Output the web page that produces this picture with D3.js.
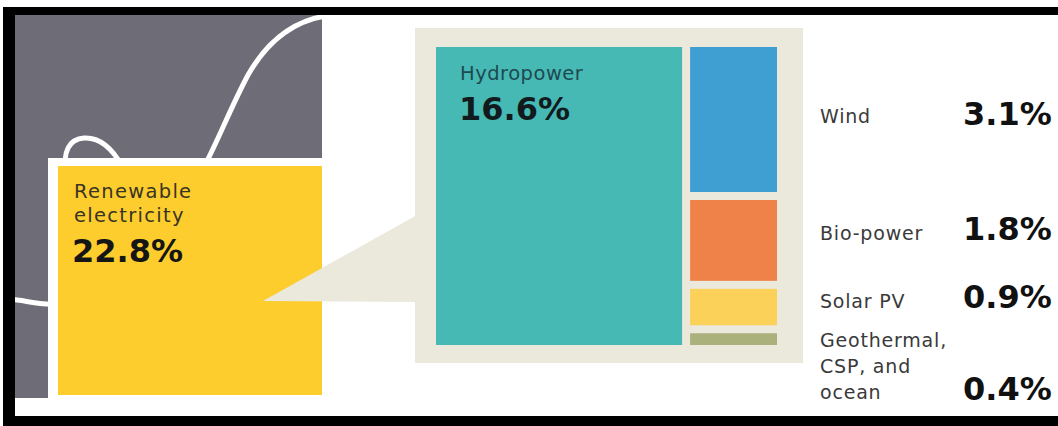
<!DOCTYPE html>
<html>
<head>
<meta charset="utf-8">
<script src="https://cdn.jsdelivr.net/npm/d3@7"></script>
<style>
  html, body { margin: 0; padding: 0; background: #ffffff; }
  svg { display: block; }
  text { font-family: "DejaVu Sans", sans-serif; }
</style>
</head>
<body>
<svg id="chart" width="1058" height="426"></svg>
<script>
// Share of global electricity generation from renewables (%)
const totalLabel = ["Renewable", "electricity"];
const totalValue = 22.8;

const sources = ["Hydropower", "Wind", "Bio-power", "Solar PV", "Geothermal, CSP, and ocean"];
const shares  = [16.6, 3.1, 1.8, 0.9, 0.4];
const sourceLines = [["Hydropower"], ["Wind"], ["Bio-power"], ["Solar PV"], ["Geothermal,", "CSP, and", "ocean"]];
const colors  = ["#47b9b5", "#3f9fd2", "#ef8249", "#fcd15a", "#aab17a"];

const fmt = v => d3.format(".1f")(v) + "%";

const svg = d3.select("#chart");

// ---- left panel: dark backdrop with a cable line and the total box ----
svg.append("rect").attr("x", 15).attr("y", 15).attr("width", 307).attr("height", 383).attr("fill", "#6e6d77");
svg.append("rect").attr("x", 48).attr("y", 158).attr("width", 274).attr("height", 240).attr("fill", "#ffffff");

const cable = svg.append("g").attr("fill", "none").attr("stroke", "#ffffff")
  .attr("stroke-width", 5).attr("stroke-linecap", "round");
cable.append("path")
  .attr("d", "M10,299 C30,301 45,307 70,303 C125,294 180,230 206,163 C219,138 232,105 248,75 C265,45 290,22 325,16");
cable.append("path")
  .attr("d", "M66,176 C62,150 70,139 84,138 C100,137 112,148 122,166 C135,190 150,215 165,240");

// the total box sits slightly translucent over the cable
svg.append("rect").attr("x", 58).attr("y", 166).attr("width", 264).attr("height", 229)
  .attr("fill", "#fcc91a").attr("fill-opacity", 0.92);

// ---- treemap of the renewable breakdown ----
const tmX = 436, tmY = 47, tmW = 341, tmH = 298;

const rootData = {
  name: "root",
  children: [
    { name: sources[0], value: shares[0], i: 0 },
    { name: "other", children: sources.slice(1).map((s, k) => ({ name: s, value: shares[k + 1], i: k + 1 })) }
  ]
};
const root = d3.hierarchy(rootData).sum(d => d.value || 0);
d3.treemap().tile(d3.treemapSliceDice).size([tmW, tmH]).paddingInner(8)(root);
const leaves = root.leaves();

// callout wedge linking the total box to the breakdown panel
svg.append("path")
  .attr("d", `M263,301 L417,${tmY + 168} L417,302 Z`)
  .attr("fill", "#ebe8dc");

// panel behind the treemap
svg.append("rect").attr("x", 415).attr("y", 28).attr("width", 388).attr("height", 335).attr("fill", "#ebe8dc");

const tm = svg.append("g").attr("transform", `translate(${tmX},${tmY})`);
tm.selectAll("rect.cell").data(leaves).join("rect")
  .attr("class", "cell")
  .attr("x", d => d.x0).attr("y", d => d.y0)
  .attr("width", d => d.x1 - d.x0).attr("height", d => d.y1 - d.y0)
  .attr("fill", d => colors[d.data.i]);

// ---- text ----
const tBox = svg.append("g");
tBox.selectAll("text.lbl").data(totalLabel).join("text")
  .attr("x", 74).attr("y", (d, k) => 198 + k * 24)
  .attr("font-size", 19.5).attr("letter-spacing", 1.3).attr("fill", "#3a3424")
  .text(d => d);
tBox.append("text").attr("x", 72).attr("y", 262)
  .attr("font-size", 32).attr("font-weight", "bold").attr("fill", "#151515")
  .text(fmt(totalValue));

const hydro = leaves.find(d => d.data.i === 0);
svg.append("text").attr("x", tmX + hydro.x0 + 24).attr("y", 80)
  .attr("font-size", 19.5).attr("letter-spacing", 0.5).attr("fill", "#1d4a50")
  .text(sourceLines[0][0]);
svg.append("text").attr("x", tmX + hydro.x0 + 23).attr("y", 120)
  .attr("font-size", 32).attr("font-weight", "bold").attr("fill", "#111a1c")
  .text(fmt(shares[0]));

// side labels for the smaller sources
const sideBase = [123, 240, 308, 347];
const valueBase = [125, 240, 308, 400];
const side = svg.append("g");
sources.slice(1).forEach((s, k) => {
  const i = k + 1;
  const t = side.append("text").attr("x", 820).attr("y", sideBase[k])
    .attr("font-size", 19).attr("letter-spacing", 0.8).attr("fill", "#3a3a3a");
  t.selectAll("tspan").data(sourceLines[i]).join("tspan")
    .attr("x", 820).attr("dy", (d, j) => j === 0 ? 0 : 26)
    .text(d => d);
  side.append("text").attr("x", 963).attr("y", valueBase[k])
    .attr("font-size", 32).attr("font-weight", "bold").attr("fill", "#111111")
    .text(fmt(shares[i]));
});

// ---- black frame ----
const frame = svg.append("g").attr("fill", "#000000");
frame.append("rect").attr("x", 3).attr("y", 7).attr("width", 1055).attr("height", 8);
frame.append("rect").attr("x", 3).attr("y", 7).attr("width", 12).attr("height", 419);
frame.append("rect").attr("x", 3).attr("y", 416).attr("width", 1055).attr("height", 10);
</script>
</body>
</html>
